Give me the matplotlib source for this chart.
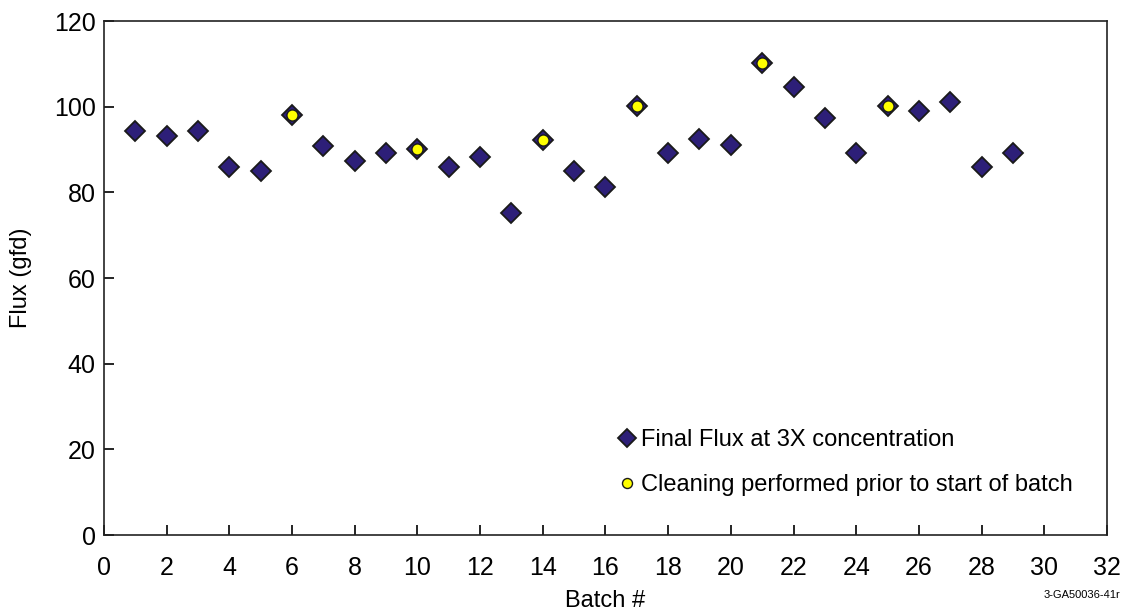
import matplotlib.pyplot as plt

plt.rcParams['font.family'] = ['Liberation Sans', 'DejaVu Sans']

# final flux for each batch
batch = list(range(1, 30))
flux = [94.3, 93.2, 94.3, 85.9, 85.0, 98.1, 90.8, 87.3, 89.2, 90.1,
        85.9, 88.3, 75.2, 92.2, 85.0, 81.3, 100.2, 89.2, 92.5, 91.1,
        110.2, 104.6, 97.4, 89.2, 100.2, 99.0, 101.1, 85.9, 89.2]

# batches started right after a membrane cleaning
cleaned = [6, 10, 14, 17, 21, 25]
cleaned_flux = [flux[b - 1] for b in cleaned]

fig = plt.figure(figsize=(11.35, 6.13), dpi=100)
ax = fig.add_axes([0.0916, 0.1272, 0.8837, 0.8385])

ax.plot(batch, flux, linestyle='none', marker='D', markersize=10.5,
        markerfacecolor='#2d1f78', markeredgecolor='#1a1a1a', markeredgewidth=1.3,
        label='Final Flux at 3X concentration')
ax.plot(cleaned, cleaned_flux, linestyle='none', marker='o', markersize=8,
        markerfacecolor='#ffff00', markeredgecolor='#1a1a1a', markeredgewidth=1.0,
        label='Cleaning performed prior to start of batch')

ax.set_xlim(0, 32)
ax.set_ylim(0, 120)
ax.set_xticks(range(0, 33, 2))
ax.set_yticks(range(0, 121, 20))
ax.tick_params(direction='in', length=7, width=1.2, labelsize=18)
ax.tick_params(axis='x', pad=15)
ax.tick_params(axis='y', pad=6)
for s in ax.spines.values():
    s.set_linewidth(1.2)
    s.set_color('#222222')

ax.set_xlabel('Batch #', fontsize=17, labelpad=7)
ax.set_ylabel('Flux (gfd)', fontsize=17, labelpad=16)

leg = ax.legend(loc='lower left', bbox_to_anchor=(0.506, 0.058), frameon=False,
                fontsize=17, handlelength=0.5, handletextpad=0.35, labelspacing=0.95,
                borderaxespad=0, markerscale=0.9)

fig.text(0.9875, 0.022, '3-GA50036-41r', fontsize=8, ha='right', va='bottom')

fig.savefig('out.png', dpi=100)
